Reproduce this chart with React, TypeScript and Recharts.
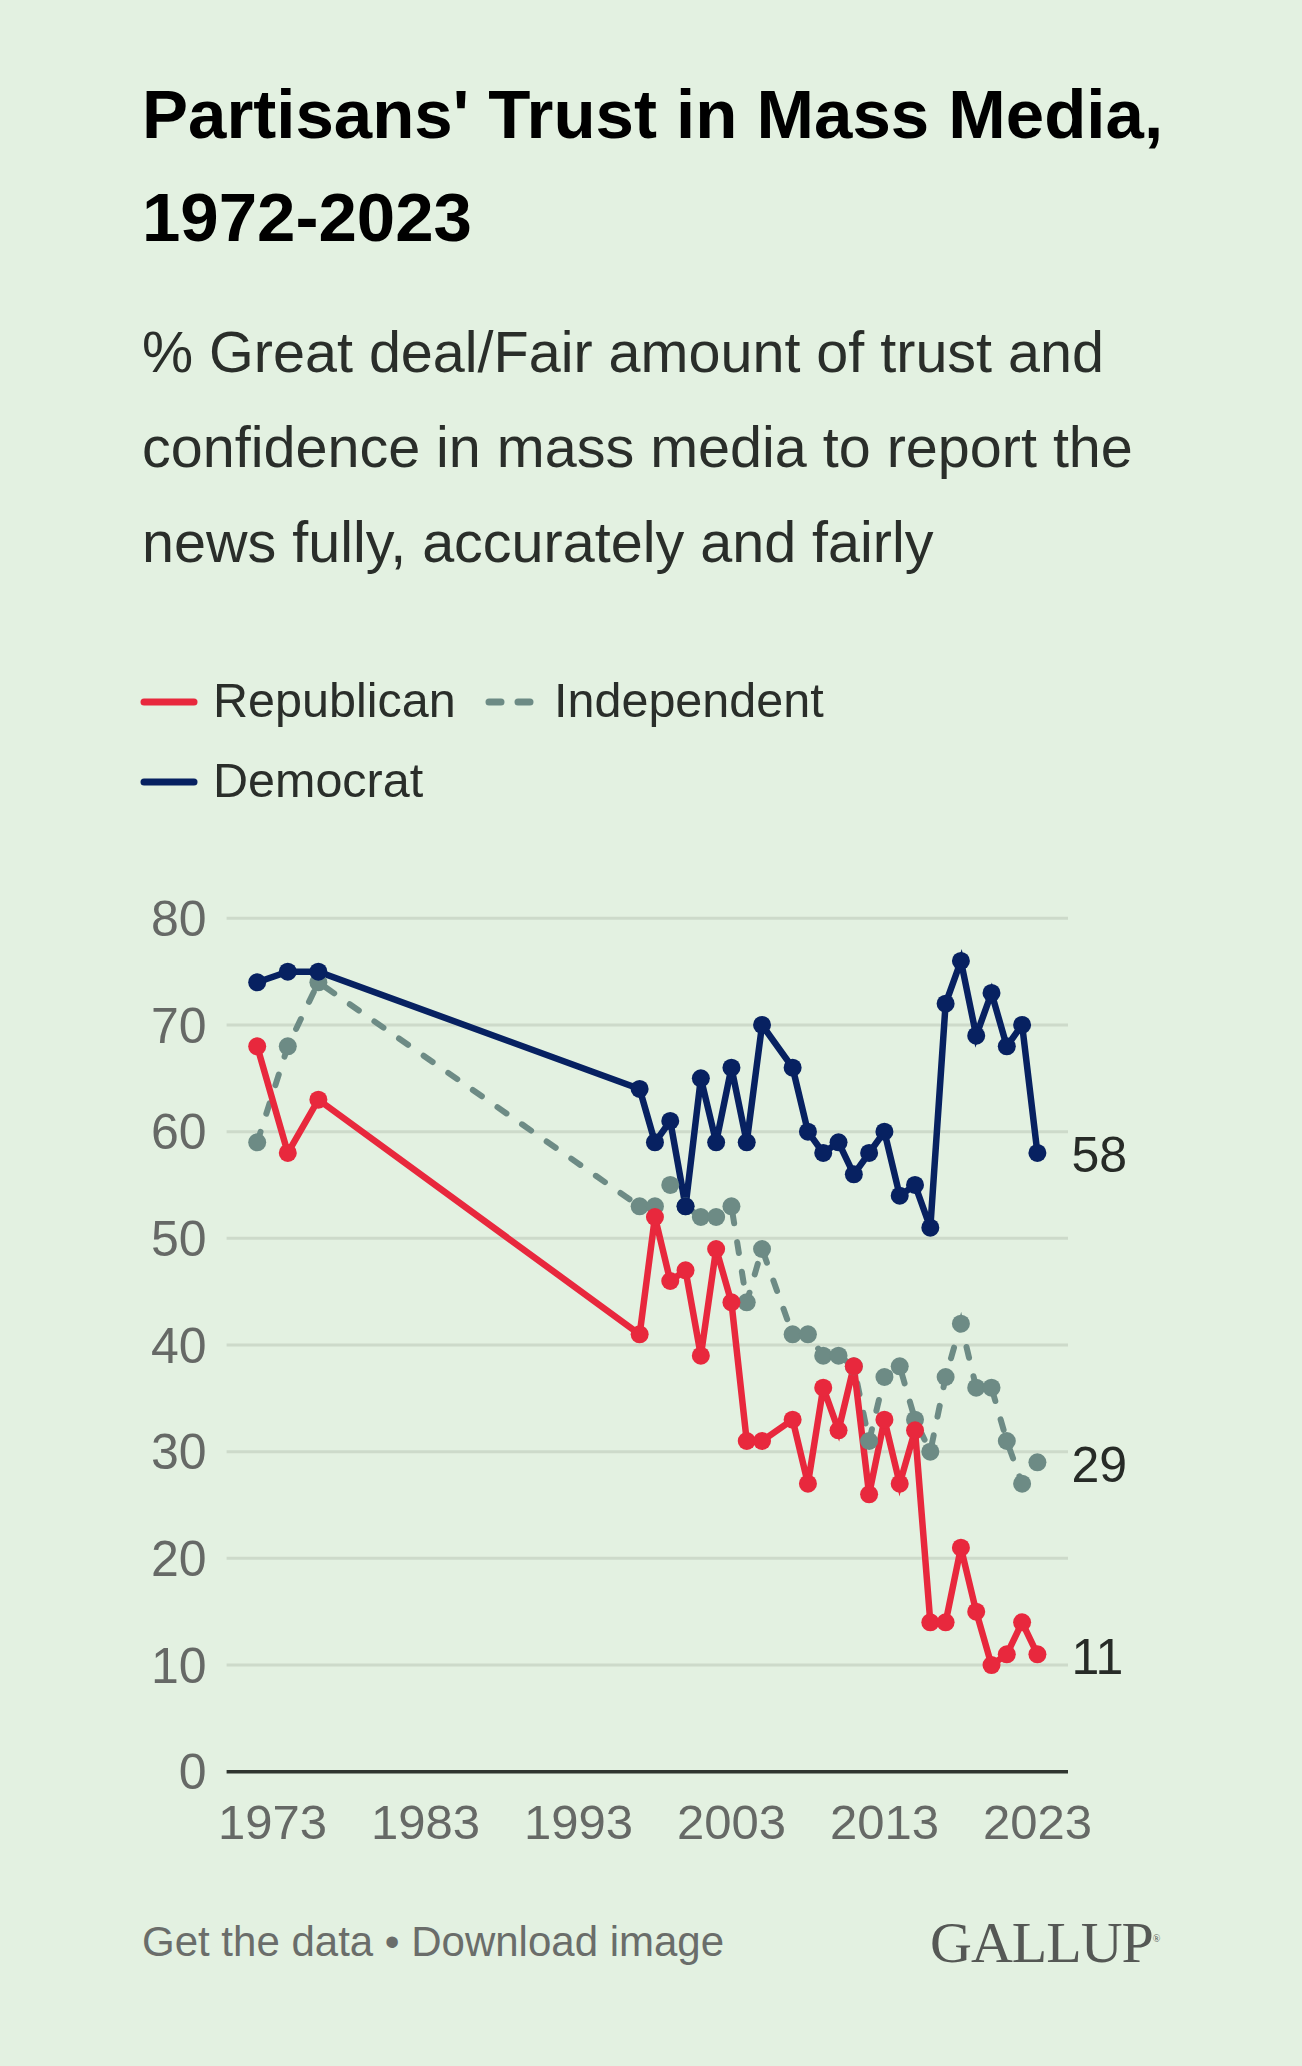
import React from "react";
import { LineChart, Line, XAxis, YAxis, CartesianGrid } from "recharts";

const years = [
  1972, 1974, 1976, 1997, 1998, 1999, 2000, 2001, 2002, 2003, 2004, 2005, 2007, 2008, 2009,
  2010, 2011, 2012, 2013, 2014, 2015, 2016, 2017, 2018, 2019, 2020, 2021, 2022, 2023,
];
const republican = [68, 58, 63, 41, 52, 46, 47, 39, 49, 44, 31, 31, 33, 27, 36, 32, 38, 26, 33, 27, 32, 14, 14, 21, 15, 10, 11, 14, 11];
const independent = [59, 68, 74, 53, 53, 55, 53, 52, 52, 53, 44, 49, 41, 41, 39, 39, 38, 31, 37, 38, 33, 30, 37, 42, 36, 36, 31, 27, 29];
const democrat = [74, 75, 75, 64, 59, 61, 53, 65, 59, 66, 59, 70, 66, 60, 58, 59, 56, 58, 60, 54, 55, 51, 72, 76, 69, 73, 68, 70, 58];

const yTicks = [0, 10, 20, 30, 40, 50, 60, 70, 80];
const xTicks = [1973, 1983, 1993, 2003, 2013, 2023];

const RED = "#E8283D";
const BLUE = "#072161";
const TEAL = "#6D8B85";
const BG = "#E3F1E1";
const FONT = "'Liberation Sans', Arial, sans-serif";

const data = years.map((year, i) => ({
  year,
  rep: republican[i],
  ind: independent[i],
  dem: democrat[i],
}));

// value label to the right of the last point only
const endLabel = (props: any) => {
  const { x, y, index, value } = props;
  if (index !== years.length - 1) return null;
  return (
    <text x={x + 34} y={y + 6} dominantBaseline="middle" fontSize={50} fill="#272b27" fontFamily={FONT}>
      {value}
    </text>
  );
};

export default function App() {
  return (
    <div
      style={{
        position: "absolute",
        left: 0,
        top: 0,
        width: 1302,
        height: 2066,
        background: BG,
        fontFamily: FONT,
        overflow: "hidden",
      }}
    >
      <div style={{ position: "absolute", left: 142, top: 63, fontSize: 69, fontWeight: 700, color: "#000", lineHeight: "103px", whiteSpace: "nowrap" }}>
        Partisans' Trust in Mass Media,
        <br />
        1972-2023
      </div>
      <div style={{ position: "absolute", left: 142, top: 305, fontSize: 57.5, color: "#2a2e2a", lineHeight: "94.8px", whiteSpace: "nowrap" }}>
        % Great deal/Fair amount of trust and
        <br />
        confidence in mass media to report the
        <br />
        news fully, accurately and fairly
      </div>

      {/* legend */}
      <svg style={{ position: "absolute", left: 0, top: 660 }} width={1000} height={160}>
        <line x1={144} x2={194} y1={42} y2={42} stroke={RED} strokeWidth={7} strokeLinecap="round" />
        <line x1={489} x2={530} y1={42} y2={42} stroke={TEAL} strokeWidth={7} strokeLinecap="round" strokeDasharray="12 17" />
        <line x1={144} x2={194} y1={122} y2={122} stroke={BLUE} strokeWidth={7} strokeLinecap="round" />
        <text x={213} y={57} fontSize={48.5} fill="#2a2e2a" fontFamily={FONT}>Republican</text>
        <text x={554} y={57} fontSize={48.5} fill="#2a2e2a" fontFamily={FONT}>Independent</text>
        <text x={213} y={137} fontSize={48.5} fill="#2a2e2a" fontFamily={FONT}>Democrat</text>
      </svg>

      <div style={{ position: "absolute", left: 0, top: 880 }}>
        <LineChart width={1302} height={1000} data={data} margin={{ top: 38.3, right: 234, left: 146.6, bottom: 48.3 }}>
          <CartesianGrid vertical={false} stroke="#CDDACA" strokeWidth={3} horizontalValues={[10, 20, 30, 40, 50, 60, 70, 80]} />
          <XAxis
            dataKey="year"
            type="number"
            domain={[1970, 2025]}
            ticks={xTicks}
            interval={0}
            height={60}
            tickLine={false}
            tickSize={0}
            tickMargin={33}
            axisLine={{ stroke: "#2f352f", strokeWidth: 3.5 }}
            tick={{ fontSize: 49, fill: "#666966", fontFamily: FONT }}
          />
          <YAxis
            domain={[0, 80]}
            ticks={yTicks}
            interval={0}
            width={80}
            tickLine={false}
            tickSize={0}
            tickMargin={20}
            axisLine={false}
            tick={{ fontSize: 50, fill: "#666966", fontFamily: FONT }}
          />
          <Line
            dataKey="ind"
            stroke={TEAL}
            strokeWidth={6}
            strokeDasharray="11 19"
            strokeLinecap="round"
            dot={{ r: 9, fill: TEAL, stroke: TEAL, strokeWidth: 0 }}
            label={endLabel}
            isAnimationActive={false}
          />
          <Line
            dataKey="rep"
            stroke={RED}
            strokeWidth={6.5}
            dot={{ r: 9, fill: RED, stroke: RED, strokeWidth: 0 }}
            label={endLabel}
            isAnimationActive={false}
          />
          <Line
            dataKey="dem"
            stroke={BLUE}
            strokeWidth={6.5}
            dot={{ r: 9, fill: BLUE, stroke: BLUE, strokeWidth: 0 }}
            label={endLabel}
            isAnimationActive={false}
          />
        </LineChart>
      </div>

      <div style={{ position: "absolute", left: 142, top: 1957 - 39, fontSize: 42, color: "#6a6d6a", whiteSpace: "nowrap" }}>
        Get the data • Download image
      </div>
      <div
        style={{
          position: "absolute",
          left: 930,
          top: 1959 - 50,
          fontSize: 58,
          color: "#555855",
          fontFamily: "'Liberation Serif', 'Times New Roman', serif",
          letterSpacing: -1,
        }}
      >
        GALLUP<sup style={{ fontSize: 10 }}>®</sup>
      </div>
    </div>
  );
}
